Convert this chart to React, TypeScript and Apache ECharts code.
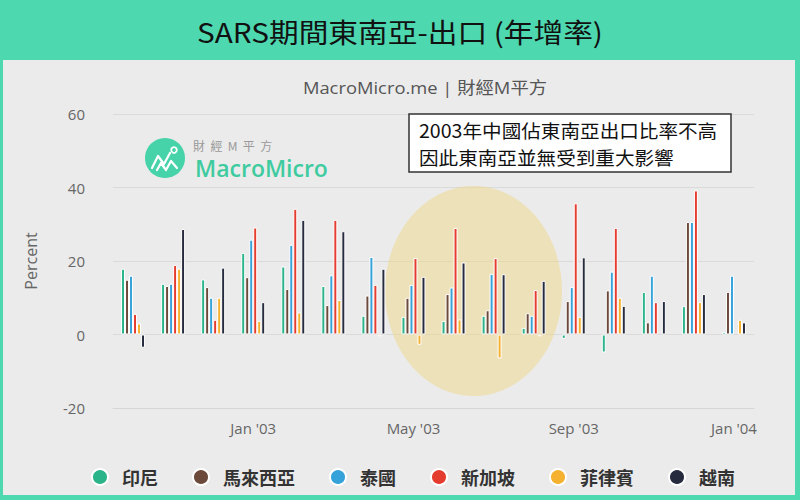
import React, { useEffect, useRef } from 'react';
import * as echarts from 'echarts';

const months = [
  "Oct '02", "Nov '02", "Dec '02", "Jan '03", "Feb '03", "Mar '03", "Apr '03", "May '03",
  "Jun '03", "Jul '03", "Aug '03", "Sep '03", "Oct '03", "Nov '03", "Dec '03", "Jan '04",
];

const seriesNames = ['印尼', '馬來西亞', '泰國', '新加坡', '菲律賓', '越南'];
const seriesColors = ['#2bb38a', '#6b4a3c', '#35a2da', '#e43d2f', '#f5b130', '#272b3e'];

const indonesia = [17.9, 13.8, 15.0, 22.2, 18.5, 13.2, 5.1, 4.8, 3.7, 5.1, 1.8, -1.2, -4.9, 11.6, 7.7, 0.7];
const malaysia = [14.9, 13.2, 12.9, 15.6, 12.4, 8.0, 10.6, 10.0, 11.0, 6.6, 5.8, 9.1, 12.0, 3.3, 30.6, 11.6];
const thailand = [16.0, 13.8, 10.0, 25.8, 24.4, 16.1, 21.1, 13.5, 12.8, 16.5, 5.1, 12.9, 17.1, 16.0, 30.6, 16.0];
const singapore = [5.6, 18.9, 4.0, 29.1, 34.2, 31.2, 13.5, 20.8, 29.0, 20.8, 12.1, 35.7, 29.0, 8.8, 39.2, null];
const philippines = [3.0, 17.9, 10.0, 3.7, 6.0, 9.4, -0.5, -2.8, 4.1, -6.5, -0.5, 4.8, 10.0, null, 8.8, 4.0];
const vietnam = [-3.6, 28.7, 18.2, 8.8, 31.2, 28.1, 17.9, 15.7, 19.6, 16.4, 14.6, 21.0, 7.8, 9.1, 11.0, 3.3];

const seriesValues = [indonesia, malaysia, thailand, singapore, philippines, vietnam];

const yMin = -20;
const yMax = 60;
const yStep = 20;

const titleText = 'SARS期間東南亞-出口 (年增率)';
const sourceText = 'MacroMicro.me | 財經M平方';
const noteLines = ['2003年中國佔東南亞出口比率不高', '因此東南亞並無受到重大影響'];

const GREEN = '#4ed8b0';
const CJK = "'Noto Sans CJK TC', 'Noto Sans CJK SC', sans-serif";
const LATIN = "'Open Sans', 'Noto Sans CJK TC', sans-serif";

const showLabel = (i: number) => i % 4 === 3;

export default function App() {
  const ref = useRef<HTMLDivElement>(null);

  useEffect(() => {
    const chart = echarts.init(ref.current!, null, { renderer: 'svg' });
    const option = {
      animation: false,
      backgroundColor: '#ebebeb',
      textStyle: { fontFamily: LATIN },
      grid: { left: 113, top: 114, width: 641, height: 294, containLabel: false },
      legend: {
        data: seriesNames,
        left: 86,
        top: 463,
        icon: 'circle',
        itemWidth: 34,
        itemHeight: 16,
        itemGap: 34,
        textStyle: { fontFamily: CJK, fontSize: 18, fontWeight: 'bold', color: '#333' },
      },
      xAxis: {
        type: 'category',
        data: months,
        boundaryGap: true,
        axisLine: { onZero: false, lineStyle: { color: '#d6d6d6' } },
        axisTick: { alignWithLabel: true, interval: showLabel, length: 9, lineStyle: { color: '#cfcfcf' } },
        axisLabel: { interval: showLabel, color: '#666', fontSize: 15, margin: 12, fontFamily: LATIN },
        splitLine: { show: false },
      },
      yAxis: {
        type: 'value',
        min: yMin,
        max: yMax,
        interval: yStep,
        name: 'Percent',
        nameLocation: 'middle',
        nameGap: 74,
        nameTextStyle: { color: '#666', fontSize: 16, fontFamily: LATIN },
        axisLine: { show: false },
        axisTick: { show: false },
        axisLabel: { color: '#666', fontSize: 15, margin: 28, fontFamily: LATIN },
        splitLine: { lineStyle: { color: '#dadada', width: 1 } },
      },
      series: seriesNames.map((name, i) => ({
        name,
        type: 'bar',
        data: seriesValues[i],
        barWidth: 4,
        barGap: '0%',
        itemStyle: { color: seriesColors[i], borderColor: '#ffffff', borderWidth: 1 },
        z: 2,
      })),
      graphic: [
        // green frame
        { type: 'rect', z: 0, shape: { x: 0, y: 0, width: 800, height: 60 }, style: { fill: GREEN } },
        { type: 'rect', z: 0, shape: { x: 0, y: 60, width: 3, height: 440 }, style: { fill: GREEN } },
        { type: 'rect', z: 0, shape: { x: 795, y: 60, width: 5, height: 440 }, style: { fill: GREEN } },
        { type: 'rect', z: 0, shape: { x: 0, y: 495, width: 800, height: 5 }, style: { fill: GREEN } },
        {
          type: 'text', z: 10, x: 400, y: 31, scaleX: 1.1,
          style: { text: titleText, fill: '#111', fontSize: 27, fontWeight: 'normal', fontFamily: CJK, textAlign: 'center', textVerticalAlign: 'middle' },
        },
        {
          type: 'text', z: 10, x: 425, y: 87, scaleX: 1.08,
          style: { text: sourceText, fill: '#555', fontSize: 17, fontFamily: LATIN, textAlign: 'center', textVerticalAlign: 'middle' },
        },
        // highlight ellipse
        {
          type: 'ellipse', z: 1,
          shape: { cx: 473.5, cy: 291, rx: 88.5, ry: 105 },
          style: { fill: 'rgba(240,212,125,0.45)' },
        },
        // watermark logo
        { type: 'circle', z: 10, shape: { cx: 165, cy: 158, r: 20 }, style: { fill: '#47d3a9' } },
        {
          type: 'polyline', z: 11,
          shape: { points: [[152, 168], [158, 156], [164, 164], [170, 153]] },
          style: { stroke: '#fff', lineWidth: 2.2, fill: null, lineJoin: 'round', lineCap: 'round' },
        },
        {
          type: 'polyline', z: 11,
          shape: { points: [[157, 170], [161, 163], [166, 170], [171, 161], [177, 168]] },
          style: { stroke: '#fff', lineWidth: 2.2, fill: null, lineJoin: 'round', lineCap: 'round' },
        },
        { type: 'circle', z: 11, shape: { cx: 174, cy: 150, r: 2.8 }, style: { stroke: '#fff', lineWidth: 1.8, fill: '#47d3a9' } },
        {
          type: 'text', z: 10, x: 193, y: 145,
          style: { text: '財  經  M  平  方', fill: '#9a9a9a', fontSize: 12, fontFamily: CJK, textVerticalAlign: 'middle' },
        },
        {
          type: 'text', z: 10, x: 195, y: 168,
          style: { text: 'MacroMicro', fill: '#3fcb9f', fontSize: 23, fontWeight: 600, fontFamily: LATIN, textVerticalAlign: 'middle' },
        },
        // annotation box
        {
          type: 'rect', z: 10,
          shape: { x: 409, y: 114, width: 322, height: 58 },
          style: { fill: '#ffffff', stroke: '#333', lineWidth: 1.5 },
        },
        {
          type: 'text', z: 11, x: 419, y: 130, scaleX: 1.06,
          style: { text: noteLines[0], fill: '#111', fontSize: 18.5, fontFamily: CJK, textVerticalAlign: 'middle' },
        },
        {
          type: 'text', z: 11, x: 419, y: 157, scaleX: 1.06,
          style: { text: noteLines[1], fill: '#111', fontSize: 18.5, fontFamily: CJK, textVerticalAlign: 'middle' },
        },
      ],
    };
    chart.setOption(option);
    return () => chart.dispose();
  }, []);

  return <div ref={ref} style={{ position: 'fixed', left: 0, top: 0, width: 800, height: 500 }} />;
}
